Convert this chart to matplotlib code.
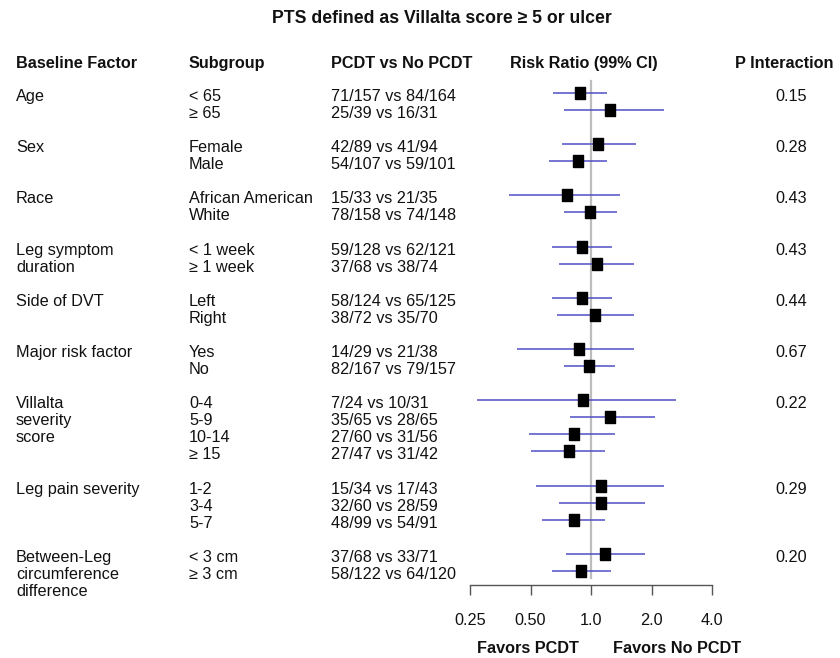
import matplotlib
matplotlib.use("Agg")
import matplotlib.pyplot as plt
from matplotlib.transforms import blended_transform_factory

plt.rcParams['font.family'] = ['Liberation Sans', 'DejaVu Sans']

# ---- data ----
factor_lines = [["Age"], ["Sex"], ["Race"], ["Leg symptom", "duration"], ["Side of DVT"],
                ["Major risk factor"], ["Villalta", "severity", "score"], ["Leg pain severity"],
                ["Between-Leg", "circumference", "difference"]]
subgroups = [["< 65", "≥ 65"], ["Female", "Male"], ["African American", "White"],
             ["< 1 week", "≥ 1 week"], ["Left", "Right"], ["Yes", "No"],
             ["0-4", "5-9", "10-14", "≥ 15"], ["1-2", "3-4", "5-7"], ["< 3 cm", "≥ 3 cm"]]
counts = [["71/157 vs 84/164", "25/39 vs 16/31"],
          ["42/89 vs 41/94", "54/107 vs 59/101"],
          ["15/33 vs 21/35", "78/158 vs 74/148"],
          ["59/128 vs 62/121", "37/68 vs 38/74"],
          ["58/124 vs 65/125", "38/72 vs 35/70"],
          ["14/29 vs 21/38", "82/167 vs 79/157"],
          ["7/24 vs 10/31", "35/65 vs 28/65", "27/60 vs 31/56", "27/47 vs 31/42"],
          ["15/34 vs 17/43", "32/60 vs 28/59", "48/99 vs 54/91"],
          ["37/68 vs 33/71", "58/122 vs 64/120"]]
rr = [[0.88, 1.24], [1.08, 0.86], [0.76, 0.99], [0.90, 1.07], [0.90, 1.05], [0.87, 0.98],
      [0.91, 1.24, 0.82, 0.78], [1.12, 1.12, 0.82], [1.17, 0.89]]
ci_lo = [[0.65, 0.73], [0.72, 0.62], [0.39, 0.73], [0.64, 0.69], [0.64, 0.68], [0.43, 0.73],
         [0.27, 0.79, 0.49, 0.50], [0.53, 0.69, 0.57], [0.75, 0.64]]
ci_hi = [[1.20, 2.31], [1.67, 1.20], [1.39, 1.35], [1.27, 1.64], [1.27, 1.64], [1.64, 1.32],
         [2.65, 2.08, 1.32, 1.17], [2.31, 1.86, 1.17], [1.86, 1.26]]
p_int = ["0.15", "0.28", "0.43", "0.43", "0.44", "0.67", "0.22", "0.29", "0.20"]
tick_vals = [0.25, 0.5, 1.0, 2.0, 4.0]
tick_labels = ["0.25", "0.50", "1.0", "2.0", "4.0"]

W, H = 840, 658
fig = plt.figure(figsize=(W / 100, H / 100), dpi=100)

# row geometry (pixels)
row0_px = 93.0
step_px = 17.07
top_px = 81.0
bot_px = 585.0
ytop = (top_px - row0_px) / step_px
ybot = (bot_px - row0_px) / step_px

ax = fig.add_axes([470 / W, 1 - bot_px / H, 242 / W, (bot_px - top_px) / H])
ax.set_xscale('log', base=2)
ax.set_xlim(0.25, 4)
ax.set_ylim(ybot, ytop)
for s in ['top', 'right', 'left']:
    ax.spines[s].set_visible(False)
ax.spines['bottom'].set_color('#555555')
ax.spines['bottom'].set_linewidth(1.0)
ax.set_yticks([])
ax.set_xticks(tick_vals)
ax.set_xticklabels(tick_labels)
ax.xaxis.set_minor_locator(matplotlib.ticker.NullLocator())
ax.tick_params(axis='x', direction='out', length=7.5, width=1.0, color='#555555',
               pad=13, labelsize=11.7, labelcolor='#111111')
ax.patch.set_alpha(0)

# reference line
ax.plot([1, 1], [ytop, (578 - row0_px) / step_px], color='#bdbdbd', lw=1.6, zorder=1,
        clip_on=False)

marker = [(-0.8, -1), (0.8, -1), (0.8, 1), (-0.8, 1), (-0.8, -1)]
trans_txt = blended_transform_factory(fig.transFigure, ax.transData)
fs = 11.7
base_off = 8.0 / step_px

idx = 0
for g in range(len(subgroups)):
    first = idx
    for k in range(len(subgroups[g])):
        ax.plot([ci_lo[g][k], ci_hi[g][k]], [idx, idx], color='#4f4fc6', lw=1.1, zorder=2,
                solid_capstyle='butt')
        ax.plot([rr[g][k]], [idx], marker=marker, markersize=8.2, color='black',
                linestyle='none', zorder=3)
        ax.text(189 / W, idx + base_off, subgroups[g][k], transform=trans_txt, fontsize=fs,
                va='baseline', ha='left', clip_on=False, color='#111111')
        ax.text(331 / W, idx + base_off, counts[g][k], transform=trans_txt, fontsize=fs,
                va='baseline', ha='left', clip_on=False, color='#111111')
        idx += 1
    for j, line in enumerate(factor_lines[g]):
        ax.text(16 / W, first + j + base_off, line, transform=trans_txt, fontsize=fs,
                va='baseline', ha='left', clip_on=False, color='#111111')
    ax.text(775 / W, first + base_off, p_int[g], transform=trans_txt, fontsize=fs,
            va='baseline', ha='left', clip_on=False, color='#111111')
    idx += 1

# headers
hy = 1 - 68 / H
for x, t in [(16, "Baseline Factor"), (189, "Subgroup"), (331, "PCDT vs No PCDT"),
             (510, "Risk Ratio (99% CI)"), (735, "P Interaction")]:
    fig.text(x / W, hy, t, fontsize=fs, fontweight='bold', va='baseline', ha='left',
             color='#111111')

fig.text(442 / W, 1 - 23 / H, "PTS defined as Villalta score ≥ 5 or ulcer", fontsize=12.7,
         fontweight='bold', va='baseline', ha='center', color='#111111')

fig.text(477 / W, 1 - 653 / H, "Favors PCDT", fontsize=fs, fontweight='bold',
         va='baseline', ha='left', color='#111111')
fig.text(613 / W, 1 - 653 / H, "Favors No PCDT", fontsize=fs, fontweight='bold',
         va='baseline', ha='left', color='#111111')

fig.savefig("out.png", dpi=100)
